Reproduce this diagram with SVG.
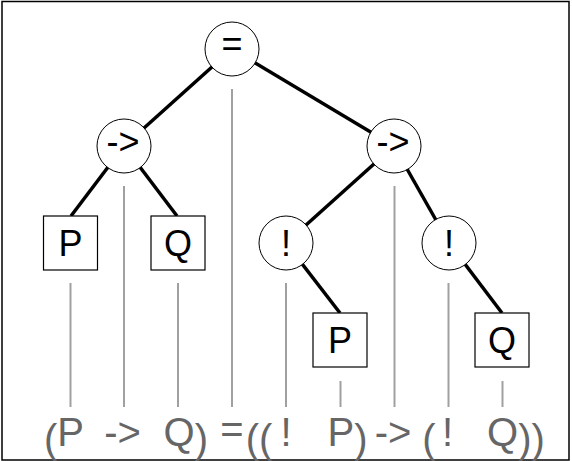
<svg xmlns="http://www.w3.org/2000/svg" width="572" height="461" viewBox="0 0 572 461">
<style>
.frame{fill:#fff;stroke:#000;stroke-width:1.5}
.edge{stroke:#000;stroke-width:3.5;stroke-linecap:butt}
.guide{stroke:#a0a0a0;stroke-width:2}
.op{fill:#fff;stroke:#000;stroke-width:1}
.leaf{fill:#fff;stroke:#000;stroke-width:1.2}
.lbl{font-family:"Liberation Sans",Arial,sans-serif;font-size:36px;fill:#000;text-anchor:middle}
.src{font-family:"Liberation Sans",Arial,sans-serif;font-size:40px;fill:#666;text-anchor:middle}
.srcs{font-family:"Liberation Sans",Arial,sans-serif;font-size:40px;fill:#666;text-anchor:start}
</style>
<rect class="frame" x="2" y="1.5" width="567" height="458.5"/>
<g id="guides">
<line class="guide" x1="70.5" y1="283" x2="70.5" y2="407"/>
<line class="guide" x1="124" y1="186" x2="124" y2="407"/>
<line class="guide" x1="178" y1="283" x2="178" y2="407"/>
<line class="guide" x1="232" y1="89" x2="232" y2="407"/>
<line class="guide" x1="286" y1="283" x2="286" y2="407"/>
<line class="guide" x1="340.5" y1="381" x2="340.5" y2="407"/>
<line class="guide" x1="394.5" y1="186" x2="394.5" y2="407"/>
<line class="guide" x1="448.5" y1="283" x2="448.5" y2="407"/>
<line class="guide" x1="502.5" y1="381" x2="502.5" y2="407"/>
</g>
<g id="connectors">
<line class="edge" x1="232" y1="49" x2="124" y2="146"/>
<line class="edge" x1="232" y1="49" x2="394" y2="146"/>
<line class="edge" x1="124" y1="146" x2="71" y2="216"/>
<line class="edge" x1="124" y1="146" x2="177" y2="216"/>
<line class="edge" x1="394" y1="146" x2="286" y2="243"/>
<line class="edge" x1="394" y1="146" x2="449" y2="243"/>
<line class="edge" x1="286" y1="243" x2="340" y2="313"/>
<line class="edge" x1="449" y1="243" x2="502" y2="313"/>
</g>
<g id="n-eq"><circle class="op" cx="232" cy="49" r="27"/><text class="lbl" x="232" y="56">=</text></g>
<g id="n-imp1"><circle class="op" cx="124" cy="146" r="27"/><text class="lbl" x="123" y="154">-&gt;</text></g>
<g id="n-imp2"><circle class="op" cx="394" cy="146" r="27"/><text class="lbl" x="393" y="154">-&gt;</text></g>
<g id="n-not1"><circle class="op" cx="286" cy="243" r="27"/><text class="lbl" x="286" y="256">!</text></g>
<g id="n-not2"><circle class="op" cx="449" cy="243" r="27"/><text class="lbl" x="449" y="256">!</text></g>
<g id="n-p1"><rect class="leaf" x="43.5" y="216" width="54" height="54"/><text class="lbl" x="70.5" y="256">P</text></g>
<g id="n-q1"><rect class="leaf" x="151" y="216" width="54" height="54"/><text class="lbl" x="178" y="256">Q</text></g>
<g id="n-p2"><rect class="leaf" x="313" y="313" width="54" height="54"/><text class="lbl" x="340" y="353">P</text></g>
<g id="n-q2"><rect class="leaf" x="475" y="313" width="54" height="54"/><text class="lbl" x="502" y="353">Q</text></g>
<g id="source">
<text class="srcs" x="44" y="453">(<tspan dy="-7">P</tspan></text>
<text class="src" x="122.5" y="446">-&gt;</text>
<text class="srcs" x="163.5" y="446">Q<tspan dy="7">)</tspan></text>
<text class="src" x="232" y="443">=</text>
<text class="src" x="259" y="453">((</text>
<text class="src" x="286" y="446">!</text>
<text class="srcs" x="327.5" y="446">P<tspan dy="7">)</tspan></text>
<text class="src" x="393" y="446">-&gt;</text>
<text class="src" x="429" y="453">(</text>
<text class="src" x="447.5" y="446">!</text>
<text class="srcs" x="487" y="446">Q<tspan dy="7">))</tspan></text>
</g>
</svg>
